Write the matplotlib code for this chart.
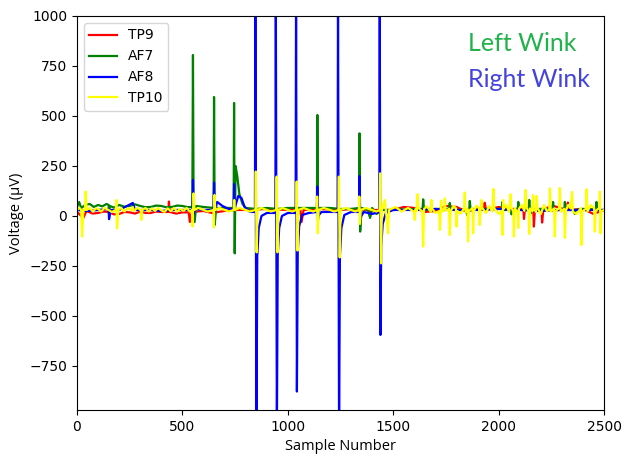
import matplotlib
matplotlib.use("Agg")
import matplotlib.pyplot as plt

# TP9 (red)
tp9_x = [0, 30, 45, 75, 100, 125, 150, 175, 200, 225, 250, 275, 300, 325, 350, 375,
         400, 433, 436, 440, 470, 500, 530, 535, 545, 600, 640, 700, 760, 800, 900,
         1000, 1060, 1065, 1075, 1150, 1250, 1300, 1385, 1389, 1400, 1500, 1550, 1600,
         1650, 1700, 1750, 1800, 1850, 1900, 1930, 1934, 1940, 2000, 2050, 2117, 2120,
         2125, 2164, 2167, 2172, 2203, 2206, 2212, 2260, 2325, 2328, 2332, 2400, 2450,
         2500]
tp9_y = [20, -10, 25, 12, 15, 22, 20, 8, 10, 20, 18, 12, 22, 15, 15, 22,
         20, 20, 72, 20, 12, 18, 18, -30, 20, 25, 15, 25, 30, 30, 35,
         30, 30, -30, 30, 35, 30, 35, 30, 0, 30, 30, 45, 40,
         20, 25, 50, 45, 20, 40, 35, 66, 30, 45, 35, 35, -15,
         40, 35, -53, 35, 35, -33, 35, 50, 30, 67, 30, 35, 10,
         30]

# AF7 (green)
af7_x = [0, 10, 20, 40, 60, 80, 100, 120, 140, 150, 152, 156, 175, 200, 225, 250,
         275, 300, 325, 350, 375, 400, 425, 450, 475, 500, 525, 547, 550, 553, 558,
         565, 600, 648, 650, 653, 660, 700, 743, 745, 748, 752, 760, 770, 785, 800,
         850, 900, 950, 1000, 1100, 1138, 1140, 1143, 1150, 1200, 1250, 1300, 1338,
         1340, 1343, 1350, 1380, 1390, 1400, 1420, 1450, 1500, 1600, 1639, 1642, 1646,
         1700, 1765, 1768, 1772, 1847, 1850, 1860, 1863, 1867, 1950, 2015, 2018, 2022,
         2058, 2061, 2065, 2090, 2093, 2097, 2142, 2145, 2150, 2154, 2200, 2255, 2258,
         2262, 2311, 2314, 2318, 2358, 2361, 2365, 2400, 2461, 2464, 2468, 2500]
af7_y = [45, 70, 40, 55, 60, 45, 55, 48, 60, 55, 10, 50, 42, 55, 46, 50,
         58, 50, 44, 45, 52, 50, 43, 45, 52, 50, 44, 45, 805, 40, -30,
         50, 45, 40, 595, -45, 40, 40, 40, 565, -187, 250, 200, 110, 60, 40,
         35, 40, 35, 40, 40, 40, 505, -20, 40, 40, 35, 35, 40,
         413, -78, 40, 30, -10, 40, 10, 30, 30, 35, 35, 83, 30,
         35, 35, 65, 30, 30, 5, 30, 75, 30, 35, 35, 70, 30,
         30, 8, 30, 30, 70, 30, 30, 80, 10, 30, 35, 35, 70,
         30, 30, 70, 30, 30, 10, 30, 35, 35, 70, 30, 30]

# AF8 (blue)
af8_x = [0, 50, 100, 150, 152, 160, 200, 265, 275, 350, 400, 450, 500, 548, 550, 553,
         560, 600, 648, 650, 653, 665, 690, 720, 743, 745, 748, 765, 780, 795, 820,
         844, 846, 851, 855, 862, 875, 900, 941, 943, 948, 952, 959, 972, 1000, 1037,
         1039, 1043, 1047, 1054, 1068, 1100, 1138, 1140, 1143, 1160, 1200, 1236, 1238,
         1243, 1247, 1254, 1268, 1300, 1338, 1340, 1343, 1360, 1400, 1434, 1436, 1439,
         1443, 1450, 1465, 1500, 1600, 1700, 1800, 1900, 2000, 2100, 2200, 2300, 2400,
         2500]
af8_y = [30, 25, 30, 35, -16, 30, 30, 65, 30, 30, 25, 30, 30, 30, 180, 10,
         35, 30, 30, 167, 20, 70, 50, 35, 35, 160, 40, 100, 90, 45, 20,
         20, 1100, -1100, -200, -60, 0, 15, 15, 1100, -1100, -200, -60, 0, 15, 15,
         1100, -878, -180, -50, 5, 15, 20, 147, 0, 20, 20, 20, 1100,
         -1100, -200, -60, 5, 20, 20, 200, -10, 20, 10, 20, 1100, -595,
         -150, -40, 15, 30, 30, 35, 30, 30, 35, 30, 25, 30, 30,
         30]

# TP10 (yellow)
tp10_x = [0, 12, 20, 24, 30, 38, 41, 46, 60, 75, 90, 100, 115, 130, 150, 165,
          184, 187, 190, 196, 210, 225, 240, 262, 265, 270, 285, 302, 305, 310, 325,
          340, 355, 370, 385, 400, 415, 430, 445, 460, 475, 490, 505, 520, 535, 546,
          548, 553, 557, 575, 600, 620, 647, 649, 652, 656, 675, 700, 720, 743, 746,
          749, 770, 800, 820, 846, 848, 852, 856, 875, 900, 920, 945, 947, 951, 955,
          975, 1000, 1020, 1040, 1042, 1046, 1050, 1075, 1100, 1120, 1137, 1139, 1142,
          1146, 1170, 1200, 1220, 1240, 1242, 1246, 1250, 1275, 1300, 1320, 1337, 1339,
          1342, 1346, 1370, 1400, 1420, 1436, 1438, 1442, 1446, 1460, 1465, 1475, 1480,
          1510, 1540, 1570, 1598, 1602, 1606, 1611, 1615, 1619, 1638, 1642, 1646, 1660,
          1678, 1681, 1684, 1700, 1718, 1721, 1725, 1727, 1730, 1742, 1745, 1748, 1765,
          1768, 1772, 1785, 1797, 1800, 1803, 1820, 1836, 1839, 1843, 1852, 1855, 1858,
          1876, 1879, 1882, 1895, 1907, 1910, 1914, 1918, 1922, 1940, 1955, 1970, 1975,
          1979, 2000, 2015, 2018, 2021, 2025, 2035, 2050, 2056, 2060, 2069, 2072, 2076,
          2090, 2093, 2096, 2110, 2122, 2128, 2133, 2142, 2145, 2149, 2160, 2163, 2166,
          2177, 2180, 2184, 2200, 2215, 2228, 2240, 2243, 2247, 2263, 2266, 2270, 2287,
          2290, 2294, 2311, 2314, 2318, 2330, 2342, 2348, 2352, 2370, 2390, 2393, 2397,
          2414, 2417, 2421, 2437, 2453, 2456, 2460, 2477, 2480, 2483, 2487, 2500]
tp10_y = [30, 40, 30, -103, 30, 30, 122, 30, 40, 22, 38, 35, 22, 40, 30, 20,
          30, 80, -62, 30, 40, 22, 38, 30, 45, 25, 40, 30, -20, 30, 40,
          22, 38, 25, 40, 28, 20, 38, 24, 40, 22, 36, 25, 40, 22, 30,
          -53, 113, 30, 40, 30, 22, 30, -57, 105, 30, 40, 30, 22, 30, 80,
          30, 40, 30, 22, 30, 222, -182, 30, 40, 30, 22, 30, 197, -182, 30,
          40, 30, 22, 30, 172, -173, 30, 40, 30, 22, 30, 97, -87,
          30, 40, 30, 22, 30, 197, -207, 30, 40, 30, 22, 30, 97,
          -40, 30, 40, 30, 22, 30, 213, -237, 30, 80, 30, -87, 30,
          45, 22, 40, 22, -20, 36, 25, 108, 40, 22, -153, 35, 48,
          20, 80, 38, 15, 24, -70, 36, 77, 20, 40, 88, 25, 36,
          -95, 22, 50, 40, -53, 25, 12, 38, 117, 20, 36, -128, 24,
          40, -87, 22, 52, 38, -45, 25, 80, 40, 15, 50, 22, 135,
          38, 10, 25, -95, 80, 36, 55, 20, 108, 40, 24, -103, 38,
          22, -60, 36, 55, 25, 130, 40, 22, -90, 38, 24, 105, 36,
          20, 100, 40, 10, 55, 25, 30, 138, 22, 38, -103, 24, 40,
          140, 22, 36, -110, 25, 55, 38, 120, 20, 10, 40, -145, 24,
          36, 133, 22, 55, 38, -78, 25, 40, 122, -87, 24, 30]

fig = plt.figure(figsize=(6.26, 4.57), dpi=100)
ax = fig.add_axes([0.123, 0.103, 0.842, 0.862])

ax.plot(tp9_x, tp9_y, color="red", lw=1.6, label="TP9")
ax.plot(af7_x, af7_y, color="green", lw=1.6, label="AF7")
ax.plot(af8_x, af8_y, color="blue", lw=1.6, label="AF8")
ax.plot(tp10_x, tp10_y, color="yellow", lw=1.6, label="TP10")

ax.set_xlim(0, 2500)
ax.set_ylim(-970, 1000)
ax.set_xticks([0, 500, 1000, 1500, 2000, 2500])
ax.set_yticks([-750, -500, -250, 0, 250, 500, 750, 1000])

ax.set_xlabel("Sample Number", fontfamily="Open Sans", fontsize=10.5)
ax.set_ylabel("Voltage (µV)", fontfamily="Open Sans", fontsize=10.5)
ax.legend(loc="upper left")

ax.text(0.742, 0.91, "Left Wink", transform=ax.transAxes, color="#22b24c",
        fontfamily="Lato", fontsize=18, va="baseline")
ax.text(0.742, 0.82, "Right Wink", transform=ax.transAxes, color="#4444dd",
        fontfamily="Lato", fontsize=18, va="baseline")

fig.savefig("out.png", dpi=100)
